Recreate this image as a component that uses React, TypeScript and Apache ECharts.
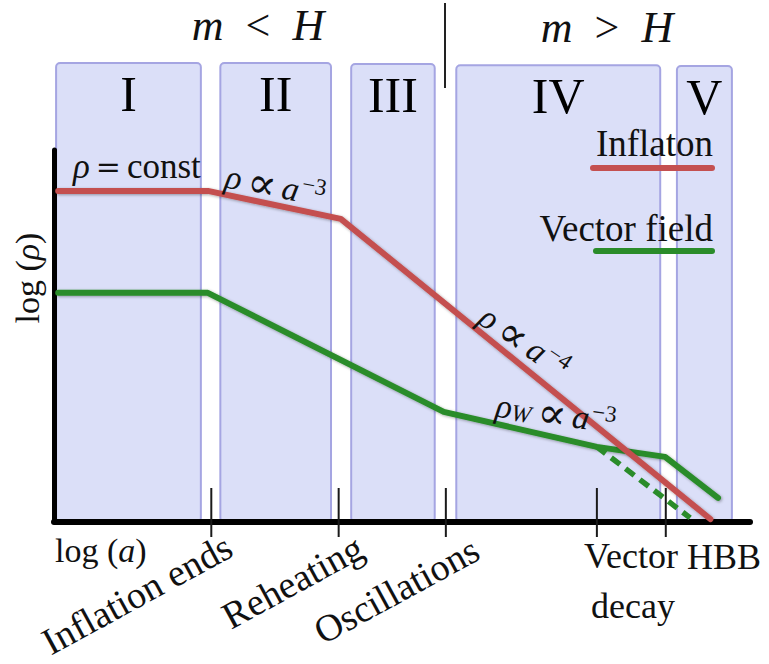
import React, { useEffect, useRef } from "react";
import * as echarts from "echarts";

// ---- data (arbitrary log units) ----
const inflaton: [number, number][] = [
  [0.6, 89.0],
  [22.1, 89.0],
  [41.2, 81.5],
  [94.3, 0.8],
];
const vectorField: [number, number][] = [
  [0.6, 61.6],
  [22.1, 61.6],
  [56.0, 29.6],
  [78.0, 20.2],
  [87.8, 17.5],
  [95.4, 6.5],
];
const vectorNoDecay: [number, number][] = [
  [78.0, 20.2],
  [91.4, 1.1],
];
const eventTicks = [22.6, 40.9, 56.3, 78.0, 87.9];
const bandNames = ["I", "II", "III", "IV", "V"];
const bandStart = [0.3, 23.9, 42.7, 57.8, 89.5];
const bandEnd = [21.1, 39.8, 54.7, 87.1, 97.4];
const bandTop = [123.4, 123.4, 123.1, 122.8, 122.6];

const F = '"Liberation Serif", "DejaVu Serif", serif';
const OPF = '"DejaVu Serif", serif';
const RED = "#c45050";
const GREEN = "#2a8c2a";
const INK = "#111";

function mathRich(size: number) {
  const base = { fontFamily: F, fontSize: size, lineHeight: size, fill: INK, color: INK };
  return {
    i: { ...base, fontStyle: "italic" },
    r: { ...base },
    op: { ...base, fontFamily: OPF, fontSize: Math.round(size * 0.85), padding: [0, 6, 0, 6] },
    pr: { ...base, fontFamily: OPF, fontSize: Math.round(size * 1.25), lineHeight: size, padding: [0, 6, 0, 6] },
    sup: {
      ...base,
      fontSize: Math.round(size * 0.68),
      lineHeight: Math.round(size * 0.68),
      padding: [0, 0, Math.round(size * 0.42), 2],
    },
    sub: {
      ...base,
      fontStyle: "italic",
      fontSize: Math.round(size * 0.72),
      lineHeight: Math.round(size * 0.72),
      padding: [Math.round(size * 0.3), 0, 0, 0],
    },
    gap: { ...base, padding: [0, 22, 0, 0] },
    gapi: { ...base, fontStyle: "italic", padding: [0, 22, 0, 0] },
  };
}

const lineShadow = {
  shadowColor: "rgba(0,0,0,0.35)",
  shadowBlur: 3,
  shadowOffsetX: 1,
  shadowOffsetY: 1,
};

function plain(text: string, size: number, x: number, y: number, align: string, vAlign: string, rotation = 0) {
  return {
    type: "text",
    z: 10,
    x,
    y,
    rotation,
    style: { text, font: `${size}px ${F}`, fill: INK, align, verticalAlign: vAlign },
  };
}

function math(text: string, size: number, x: number, y: number, align: string, rotation = 0) {
  return {
    type: "text",
    z: 10,
    x,
    y,
    rotation,
    style: { text, rich: mathRich(size), align, verticalAlign: "middle" },
  };
}

export default function App() {
  const ref = useRef<HTMLDivElement>(null);
  useEffect(() => {
    if (!ref.current) return;
    const chart = echarts.init(ref.current, null, { renderer: "svg" });
    const option: any = {
      animation: false,
      backgroundColor: "#ffffff",
      grid: { left: 54, right: 19, top: 150, bottom: 142 },
      xAxis: {
        type: "value",
        min: 0,
        max: 100,
        z: 3,
        axisLine: { show: true, onZero: false, lineStyle: { color: "#000", width: 6, cap: "round" } },
        axisTick: { show: false },
        axisLabel: { show: false },
        splitLine: { show: false },
      },
      yAxis: {
        type: "value",
        min: 0,
        max: 100,
        z: 3,
        axisLine: { show: true, onZero: false, lineStyle: { color: "#000", width: 5, cap: "round" } },
        axisTick: { show: false },
        axisLabel: { show: false },
        splitLine: { show: false },
      },
      series: [
        {
          type: "custom",
          z: 1,
          silent: true,
          clip: false,
          data: bandNames.map((_, i) => [bandStart[i], bandEnd[i], bandTop[i], i]),
          encode: { x: [0, 1], y: 2 },
          renderItem: (_p: any, api: any) => {
            const x0 = api.value(0);
            const x1 = api.value(1);
            const top = api.value(2);
            const i = api.value(3);
            const p0 = api.coord([x0, 0]);
            const p1 = api.coord([x1, top]);
            return {
              type: "group",
              children: [
                {
                  type: "rect",
                  shape: { x: p0[0], y: p1[1], width: p1[0] - p0[0], height: p0[1] - p1[1], r: 4 },
                  style: { fill: "#dbdff8", stroke: "#a5a5e2", lineWidth: 2 },
                },
                {
                  type: "text",
                  style: {
                    text: bandNames[i],
                    x: (p0[0] + p1[0]) / 2,
                    y: p1[1] + 31,
                    align: "center",
                    verticalAlign: "middle",
                    fontFamily: F,
                    fontSize: 50,
                    fill: "#000",
                  },
                },
              ],
            };
          },
        },
        {
          type: "custom",
          z: 4,
          silent: true,
          clip: false,
          data: eventTicks.map((v) => [v, 0]),
          encode: { x: 0, y: 1 },
          renderItem: (_p: any, api: any) => {
            const c = api.coord([api.value(0), 0]);
            return {
              type: "line",
              shape: { x1: c[0], y1: c[1] - 34, x2: c[0], y2: c[1] + 15 },
              style: { stroke: "#1a1a1a", lineWidth: 2 },
            };
          },
        },
        {
          type: "line",
          name: "Inflaton",
          z: 6,
          silent: true,
          data: inflaton,
          symbol: "none",
          lineStyle: { color: RED, width: 6, cap: "round", join: "round", ...lineShadow },
        },
        {
          type: "line",
          name: "Vector field",
          z: 5,
          silent: true,
          data: vectorField,
          symbol: "none",
          lineStyle: { color: GREEN, width: 6, cap: "round", join: "round", ...lineShadow },
        },
        {
          type: "line",
          name: "Vector field (no decay)",
          z: 5,
          silent: true,
          data: vectorNoDecay,
          symbol: "none",
          lineStyle: { color: GREEN, width: 5.5, type: [11, 7], cap: "butt" },
        },
      ],
      graphic: [
        { type: "line", z: 10, shape: { x1: 445, y1: 3, x2: 445, y2: 88 }, style: { stroke: "#222", lineWidth: 2 } },
        math("{gapi|m}{gap|<}{i|H}", 44, 258, 25, "center"),
        math("{gapi|m}{gap|>}{i|H}", 44, 607, 27, "center"),
        plain("Inflaton", 37, 713, 143, "right", "middle"),
        { type: "line", z: 10, shape: { x1: 593, y1: 168, x2: 712, y2: 168 }, style: { stroke: RED, lineWidth: 6, lineCap: "round" } },
        plain("Vector field", 37, 713, 228, "right", "middle"),
        { type: "line", z: 10, shape: { x1: 596, y1: 251, x2: 712, y2: 251 }, style: { stroke: GREEN, lineWidth: 6, lineCap: "round" } },
        math("{i|ρ}{op|=}{r|const}", 35, 73, 166, "left"),
        math("{i|ρ}{pr|∝}{i|a}{sup|−3}", 34, 226, 176, "left", -0.19),
        math("{i|ρ}{pr|∝}{i|a}{sup|−4}", 34, 483, 313, "left", -0.6),
        math("{i|ρ}{sub|W}{pr|∝}{i|a}{sup|−3}", 34, 496, 405, "left", -0.14),
        math("{r|log (}{i|ρ}{r|)}", 34, 27, 278, "center", Math.PI / 2),
        math("{r|log (}{i|a}{r|)}", 34, 55, 550, "left"),
        plain("Inflation ends", 38, 220, 527, "right", "top", 0.5),
        plain("Reheating", 38, 351, 528, "right", "top", 0.5),
        plain("Oscillations", 38, 467, 530, "right", "top", 0.5),
        plain("Vector", 36, 631, 556, "center", "middle"),
        plain("decay", 36, 633, 606, "center", "middle"),
        plain("HBB", 36, 687, 557, "left", "middle"),
      ],
    };
    chart.setOption(option);
    return () => chart.dispose();
  }, []);
  return (
    <div
      ref={ref}
      style={{ position: "fixed", left: 0, top: 0, width: 769, height: 664, background: "#fff" }}
    />
  );
}
